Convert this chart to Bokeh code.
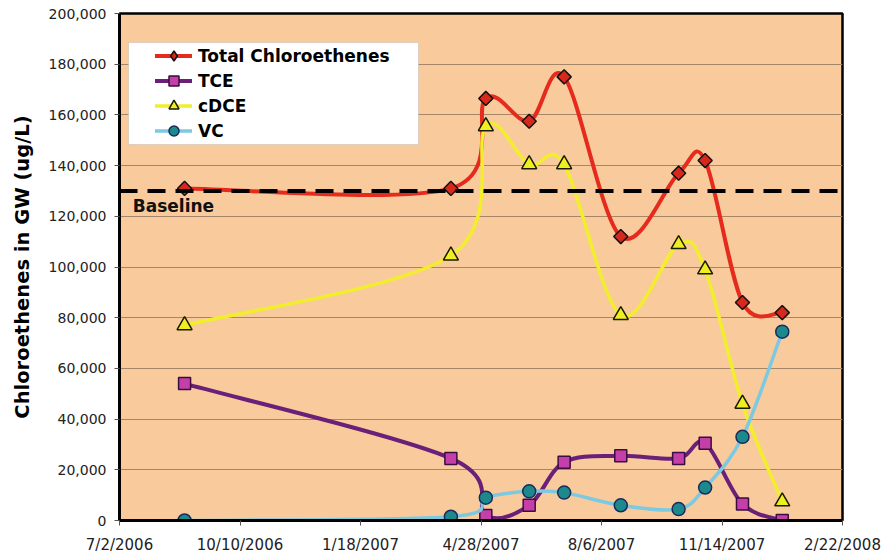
import numpy as np
import pandas as pd
from bokeh.plotting import figure
from bokeh.models import (Range1d, FixedTicker, NumeralTickFormatter, Span, Label,
                          Legend, LegendItem, BoxAnnotation)
from bokeh.embed import file_html
from bokeh.resources import INLINE

# ---------------- data ----------------
sample_dates = ["2006-08-25", "2007-04-03", "2007-05-02", "2007-06-07", "2007-07-06",
                "2007-08-22", "2007-10-09", "2007-10-31", "2007-12-01", "2008-01-03"]
total_chloroethenes = [131000, 131000, 166500, 157500, 175000, 112000, 137000, 142000, 86000, 82000]
tce = [54000, 24500, 2000, 6000, 23000, 25500, 24500, 30500, 6500, 0]
cdce = [77000, 104500, 155500, 140500, 140500, 81000, 109000, 99000, 46000, 7500]
vc = [0, 1500, 9000, 11500, 11000, 6000, 4500, 13000, 33000, 74500]
baseline_value = 130000
x_tick_labels = ["7/2/2006", "10/10/2006", "1/18/2007", "4/28/2007",
                 "8/6/2007", "11/14/2007", "2/22/2008"]
y_ticks = [0, 20000, 40000, 60000, 80000, 100000, 120000, 140000, 160000, 180000, 200000]
series_names = ["Total Chloroethenes", "TCE", "cDCE", "VC"]


def to_ms(dates, fmt=None):
    d = pd.to_datetime(dates, format=fmt)
    return d.values.astype("datetime64[ms]").astype("int64").astype(float)


x = to_ms(sample_dates)
x_ticks = to_ms(x_tick_labels, "%m/%d/%Y")


def smooth_segments(xs, ys):
    """Excel-style smoothed line: cubic Bezier segments through the points."""
    xs = np.asarray(xs, float)
    ys = np.asarray(ys, float)
    xp = np.concatenate([[xs[0]], xs, [xs[-1]]])
    yp = np.concatenate([[ys[0]], ys, [ys[-1]]])
    i = np.arange(len(xs) - 1)
    return dict(
        x0=xp[i + 1], y0=yp[i + 1], x1=xp[i + 2], y1=yp[i + 2],
        cx0=xp[i + 1] + (xp[i + 2] - xp[i]) / 6.0,
        cy0=yp[i + 1] + (yp[i + 2] - yp[i]) / 6.0,
        cx1=xp[i + 2] - (xp[i + 3] - xp[i + 1]) / 6.0,
        cy1=yp[i + 2] - (yp[i + 3] - yp[i + 1]) / 6.0,
    )


FONT = "DejaVu Sans"

p = figure(width=882, height=556, output_backend="svg", toolbar_location=None,
           x_range=Range1d(x_ticks[0], x_ticks[-1]), y_range=Range1d(0, 200000),
           min_border_left=119, min_border_right=40, min_border_top=13, min_border_bottom=36,
           background_fill_color="#F9CB9C", border_fill_color="white")
p.outline_line_color = "black"
p.outline_line_width = 2.5

p.xgrid.visible = False
p.ygrid.ticker = FixedTicker(ticks=y_ticks)
p.ygrid.grid_line_color = "#A58668"
p.ygrid.grid_line_width = 1

p.xaxis.ticker = FixedTicker(ticks=list(x_ticks))
p.xaxis.major_label_overrides = {float(t): lab for t, lab in zip(x_ticks, x_tick_labels)}
p.yaxis.ticker = FixedTicker(ticks=y_ticks)
p.yaxis.formatter = NumeralTickFormatter(format="0,0")

for ax in (p.xaxis, p.yaxis):
    ax.axis_line_color = "black"
    ax.axis_line_width = 3
    ax.major_tick_line_color = "#555555"
    ax.major_tick_line_width = 1
    ax.major_tick_in = 0
    ax.major_tick_out = 5
    ax.minor_tick_line_color = None
    ax.major_label_text_font = FONT
    ax.major_label_text_color = "#222222"

p.xaxis.major_label_text_font_size = "15px"
p.xaxis.major_label_standoff = 10
p.yaxis.major_label_text_font_size = "14px"
p.yaxis.major_label_standoff = 8

p.yaxis.axis_label = "Chloroethenes in GW (ug/L)"
p.yaxis.axis_label_text_font = FONT
p.yaxis.axis_label_text_font_style = "bold"
p.yaxis.axis_label_text_font_size = "19.5px"
p.yaxis.axis_label_text_color = "black"
p.yaxis.axis_label_standoff = 12

# baseline
p.add_layout(Span(location=baseline_value, dimension="width", line_color="black",
                  line_width=4, line_dash="18 10"))
p.add_layout(Label(x=x_ticks[0] + 11 * 86400000, y=baseline_value, y_offset=-5,
                   text="Baseline", text_font=FONT, text_font_style="bold",
                   text_font_size="17px", text_baseline="top", text_color="#111111"))

styles = [
    dict(line="#E42B1E", lw=4.0, marker="square", angle=np.pi / 4, size=10,
         fill="#D8281C", outline="#111111", legend_marker="diamond"),
    dict(line="#6A1F78", lw=4.0, marker="square", angle=0.0, size=12,
         fill="#C43FA8", outline="#3A0E40", legend_marker=None),
    dict(line="#F2EE2E", lw=3.5, marker="triangle", angle=0.0, size=15,
         fill="#EEEE22", outline="#1A1A00", legend_marker=None),
    dict(line="#7CC9E2", lw=3.5, marker="circle", angle=0.0, size=13,
         fill="#1C8A8C", outline="#1B2A5E", legend_marker=None),
]

items = []
for name, ys, st in zip(series_names, [total_chloroethenes, tce, cdce, vc], styles):
    seg = smooth_segments(x, ys)
    lr = p.bezier(line_color=st["line"], line_width=st["lw"], line_cap="round", **seg)
    legend_rs = [lr]
    if st["legend_marker"]:
        # tiny copy hidden under the plot markers; used so the legend shows a diamond
        legend_rs.append(p.scatter(x, ys, marker=st["legend_marker"], size=1,
                                   fill_color=st["fill"], line_color=st["outline"],
                                   line_width=1.5))
    mr = p.scatter(x, ys, marker=st["marker"], angle=st["angle"], size=st["size"],
                   fill_color=st["fill"], line_color=st["outline"], line_width=1.5)
    if not st["legend_marker"]:
        legend_rs.append(mr)
    items.append(LegendItem(label=name, renderers=legend_rs))

# legend box and legend
p.add_layout(BoxAnnotation(left=9, right=299, top=478, bottom=376,
                           left_units="screen", right_units="screen",
                           top_units="screen", bottom_units="screen",
                           fill_color="white", fill_alpha=1.0,
                           line_color="#9A9A9A", line_width=1))
legend = Legend(items=items, location=(36, 377), padding=0, margin=0, spacing=0,
                glyph_width=37, glyph_height=25, label_height=25, label_standoff=6,
                background_fill_alpha=0, border_line_alpha=0,
                label_text_font=FONT, label_text_font_style="bold",
                label_text_font_size="17px", label_text_color="black")
p.add_layout(legend)

open("out.html", "w").write(file_html(p, INLINE))
